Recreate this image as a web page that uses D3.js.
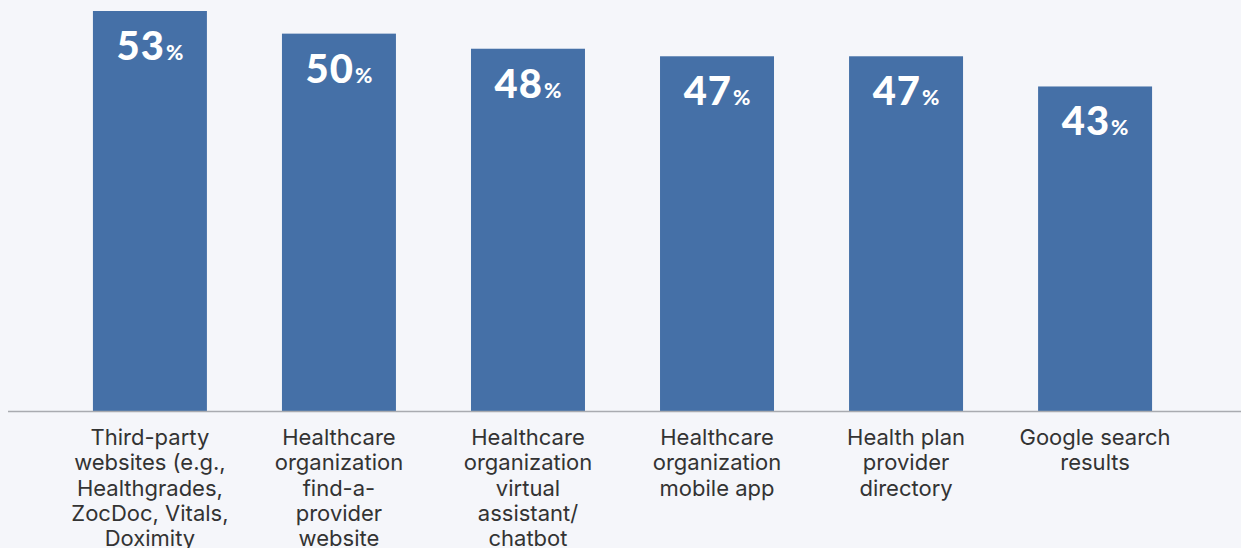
<!DOCTYPE html>
<html>
<head>
<meta charset="utf-8">
<script src="https://cdn.jsdelivr.net/npm/d3@7"></script>
<style>
  body { margin: 0; background: #f5f6fa; }
  svg { display: block; }
</style>
</head>
<body>
<svg id="chart" width="1241" height="548"></svg>
<script>
var categories = [
  ["Third-party", "websites (e.g.,", "Healthgrades,", "ZocDoc, Vitals,", "Doximity"],
  ["Healthcare", "organization", "find-a-", "provider", "website"],
  ["Healthcare", "organization", "virtual", "assistant/", "chatbot"],
  ["Healthcare", "organization", "mobile app"],
  ["Health plan", "provider", "directory"],
  ["Google search", "results"]
];
var values = [53, 50, 48, 47, 47, 43];

var svg = d3.select("#chart"),
  width = 1241,
  height = 548,
  baseY = 411;

svg.append("rect").attr("width", width).attr("height", height).attr("fill", "#f5f6fa");

var x = d3.scaleBand()
  .domain(d3.range(values.length))
  .range([55.5, 55.5 + 189 * values.length])
  .paddingInner(0.397)
  .paddingOuter(0.198);

var y = d3.scaleLinear()
  .domain([0, 53])
  .range([baseY, 11]);

svg.selectAll("rect.bar")
  .data(values)
  .enter().append("rect")
  .attr("class", "bar")
  .attr("x", function(d, i) { return x(i); })
  .attr("y", function(d) { return y(d); })
  .attr("width", x.bandwidth())
  .attr("height", function(d) { return baseY - y(d); })
  .attr("fill", "#4570a7");

// baseline
svg.append("line")
  .attr("x1", 8).attr("x2", width)
  .attr("y1", baseY + 0.5).attr("y2", baseY + 0.5)
  .attr("stroke", "#a9abb0")
  .attr("stroke-width", 1.5);

// value labels
var vl = svg.selectAll("text.val")
  .data(values)
  .enter().append("text")
  .attr("class", "val")
  .attr("x", function(d, i) { return x(i) + x.bandwidth() / 2; })
  .attr("y", function(d) { return y(d) + 49; })
  .attr("text-anchor", "middle")
  .attr("fill", "#ffffff")
  .attr("font-family", "Lato, sans-serif")
  .attr("font-weight", "900");
vl.append("tspan").attr("font-size", 40).attr("letter-spacing", 1).text(function(d) { return d; });
vl.append("tspan").attr("font-size", 21).attr("dx", 1).text("%");

// category labels
var cl = svg.selectAll("text.cat")
  .data(categories)
  .enter().append("text")
  .attr("class", "cat")
  .attr("x", function(d, i) { return x(i) + x.bandwidth() / 2; })
  .attr("y", 445)
  .attr("text-anchor", "middle")
  .attr("fill", "#333333")
  .attr("font-family", "Inter, sans-serif")
  .attr("font-size", 22);
cl.each(function(lines, i) {
  var t = d3.select(this);
  lines.forEach(function(s, j) {
    t.append("tspan")
      .attr("x", x(i) + x.bandwidth() / 2)
      .attr("dy", j === 0 ? 0 : 25.3)
      .text(s);
  });
});
</script>
</body>
</html>
